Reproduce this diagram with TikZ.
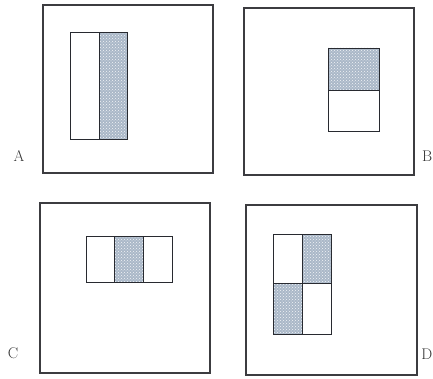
\documentclass[tikz,border=0pt]{standalone}
\usepackage{tikz}
\usetikzlibrary{patterns}
\usepackage{xcolor}
\definecolor{frameink}{RGB}{60,60,64}
\definecolor{featink}{RGB}{40,42,48}
\definecolor{featblue}{RGB}{170,184,200}

\begin{document}
\begin{tikzpicture}[
  x=1pt, y=-1pt,
  window/.style={draw=frameink, line width=1.1pt},
  feat/.style={draw=featink, line width=0.9pt},
  dark/.style={draw=featink, line width=0.9pt,
               preaction={fill=featblue},
               preaction={pattern=crosshatch dots, pattern color=white!85!featblue}},
  tag/.style={font=\fontsize{15.5}{18}\selectfont, text=black!80, inner sep=0pt},
]
\useasboundingbox (0,0) rectangle (433,379);
%─── A: two-rectangle, vertical split ─────────────────────────────────────
\draw[window] (43,5) rectangle (213,173);
\draw[feat] (70,32) rectangle (99,139);
\draw[dark] (99,32) rectangle (127,139);
\node[tag] (labA) at (19,156) {A};
%─── B: two-rectangle, horizontal split ───────────────────────────────────
\draw[window] (244,8) rectangle (414,175);
\draw[dark] (328,48) rectangle (379,90);
\draw[feat] (328,90) rectangle (379,131);
\node[tag, anchor=east] (labB) at (432.5,156) {B};
%─── C: three-rectangle ───────────────────────────────────────────────────
\draw[window] (40,203) rectangle (210,373);
\draw[feat] (86,236) rectangle (114,282);
\draw[dark] (114,236) rectangle (143,282);
\draw[feat] (143,236) rectangle (172,282);
\node[tag] (labC) at (13,353) {C};
%─── D: four-rectangle, diagonal ──────────────────────────────────────────
\draw[window] (246,205) rectangle (417,375);
\draw[feat] (273,234) rectangle (302,283);
\draw[dark] (302,234) rectangle (331,283);
\draw[dark] (273,283) rectangle (302,334);
\draw[feat] (302,283) rectangle (331,334);
\node[tag, anchor=east] (labD) at (432.5,354) {D};
\end{tikzpicture}
\end{document}
